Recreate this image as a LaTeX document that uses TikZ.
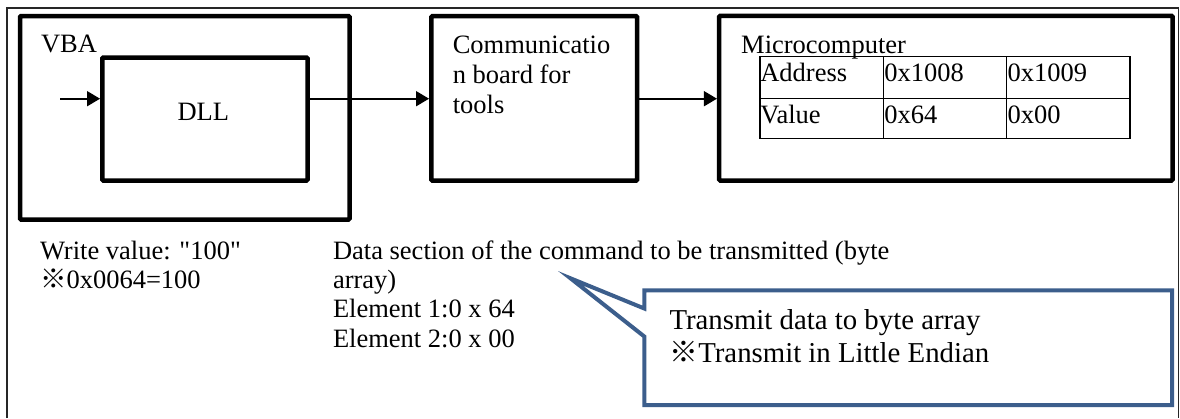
\documentclass[tikz,border=0pt]{standalone}
\usepackage{fontspec}
\setmainfont{Liberation Serif}
\newfontfamily\straightq{Liberation Serif}[Ligatures=TeXOff]
\newfontfamily\cjkmark{Noto Sans CJK JP}
\usetikzlibrary{arrows.meta}
\definecolor{callblue}{RGB}{60,94,140}
\begin{document}
\begin{tikzpicture}[x=1pt,y=-1pt,
  every node/.style={font=\fontsize{26.5}{30}\selectfont},
  txt/.style={anchor=base west, inner sep=0pt, outer sep=0pt},
  bigtxt/.style={txt, font=\fontsize{28.8}{33}\selectfont},
  thickbox/.style={draw=black, line width=4.5pt, rounded corners=1pt, inner sep=0pt, fill=none},
  arr/.style={line width=1.6pt, -{Triangle[length=13pt,width=15pt]}},
  tbl/.style={line width=1.1pt},
  frame/.style={line width=1.3pt, draw=black!85},
  callout/.style={draw=callblue, line width=4pt, fill=white, line join=miter}]
\useasboundingbox (0,0) rectangle (1180,418);
\fill[white] (0,0) rectangle (1180,418);
% outer frame
\draw[frame] (7,418) -- (7,8) -- (1178.5,8) -- (1178.5,418);
% boxes
\node[thickbox, minimum width=329.5pt, minimum height=203.5pt] (vba) at (184.75,117.75) {};
\node[thickbox, minimum width=205.2pt, minimum height=123pt] (dll) at (204.9,119) {};
\node[thickbox, minimum width=205.9pt, minimum height=164.3pt] (comm) at (534.25,98.35) {};
\node[thickbox, minimum width=453.3pt, minimum height=164.7pt] (micro) at (945.85,98.15) {};
% labels in boxes
\node[txt] (vbal) at (41,52.3) {VBA};
\node[txt] (dlll) at (177.5,120) {DLL};
\node[txt] (comm1) at (452.8,53.3) {Communicatio};
\node[txt] (comm2) at (452.8,83.3) {n board for};
\node[txt] (comm3) at (452.8,113.3) {tools};
\node[txt] (microl) at (741.2,53.3) {Microcomputer};
% table
\draw[tbl] (760,56.7) rectangle (1130,138.3);
\draw[tbl] (760,98.3) -- (1130,98.3);
\draw[tbl] (883.3,56.7) -- (883.3,138.3);
\draw[tbl] (1006.7,56.7) -- (1006.7,138.3);
\node[txt] (c11) at (760.3,81.7) {Address};
\node[txt] (c12) at (884.3,81.7) {0x1008};
\node[txt] (c13) at (1007.7,81.7) {0x1009};
\node[txt] (c21) at (760.3,123.3) {Value};
\node[txt] (c22) at (884.3,123.3) {0x64};
\node[txt] (c23) at (1007.7,123.3) {0x00};
% connectors
\coordinate (in) at (60,98.7);
\draw[arr] (in) -- (dll.west |- in);
\draw[arr] (dll.east |- in) -- (comm.west |- in);
\draw[arr] (comm.east |- in) -- (micro.west |- in);
% lower texts
\node[txt] (w1) at (40,259) {Write value: {\straightq "100"}};
\node[txt] (w2) at (40,288) {{\cjkmark ※}0x0064=100};
\node[txt] (d1) at (333,259) {Data section of the command to be transmitted (byte};
\node[txt] (d2) at (333,288) {array)};
\node[txt] (d3) at (333,317) {Element 1:0 x 64};
\node[txt] (d4) at (333,347.5) {Element 2:0 x 00};
% callout
\coordinate (ctl) at (644.3,290.3);
\coordinate (ctr) at (1172,290.3);
\coordinate (cbr) at (1172,405);
\coordinate (cbl) at (644.3,405);
\coordinate (clo) at (644.3,336.5);
\coordinate (ctip) at (570.5,278.3);
\coordinate (cup) at (644.3,308.5);
\draw[callout] (ctl) -- (ctr) -- (cbr) -- (cbl) -- (clo) -- (ctip) -- (cup) -- cycle;
\node[bigtxt] (t1) at (669.5,329) {Transmit data to byte array};
\node[bigtxt] (t2) at (669.5,362.3) {{\cjkmark ※}Transmit in Little Endian};
\end{tikzpicture}
\end{document}
